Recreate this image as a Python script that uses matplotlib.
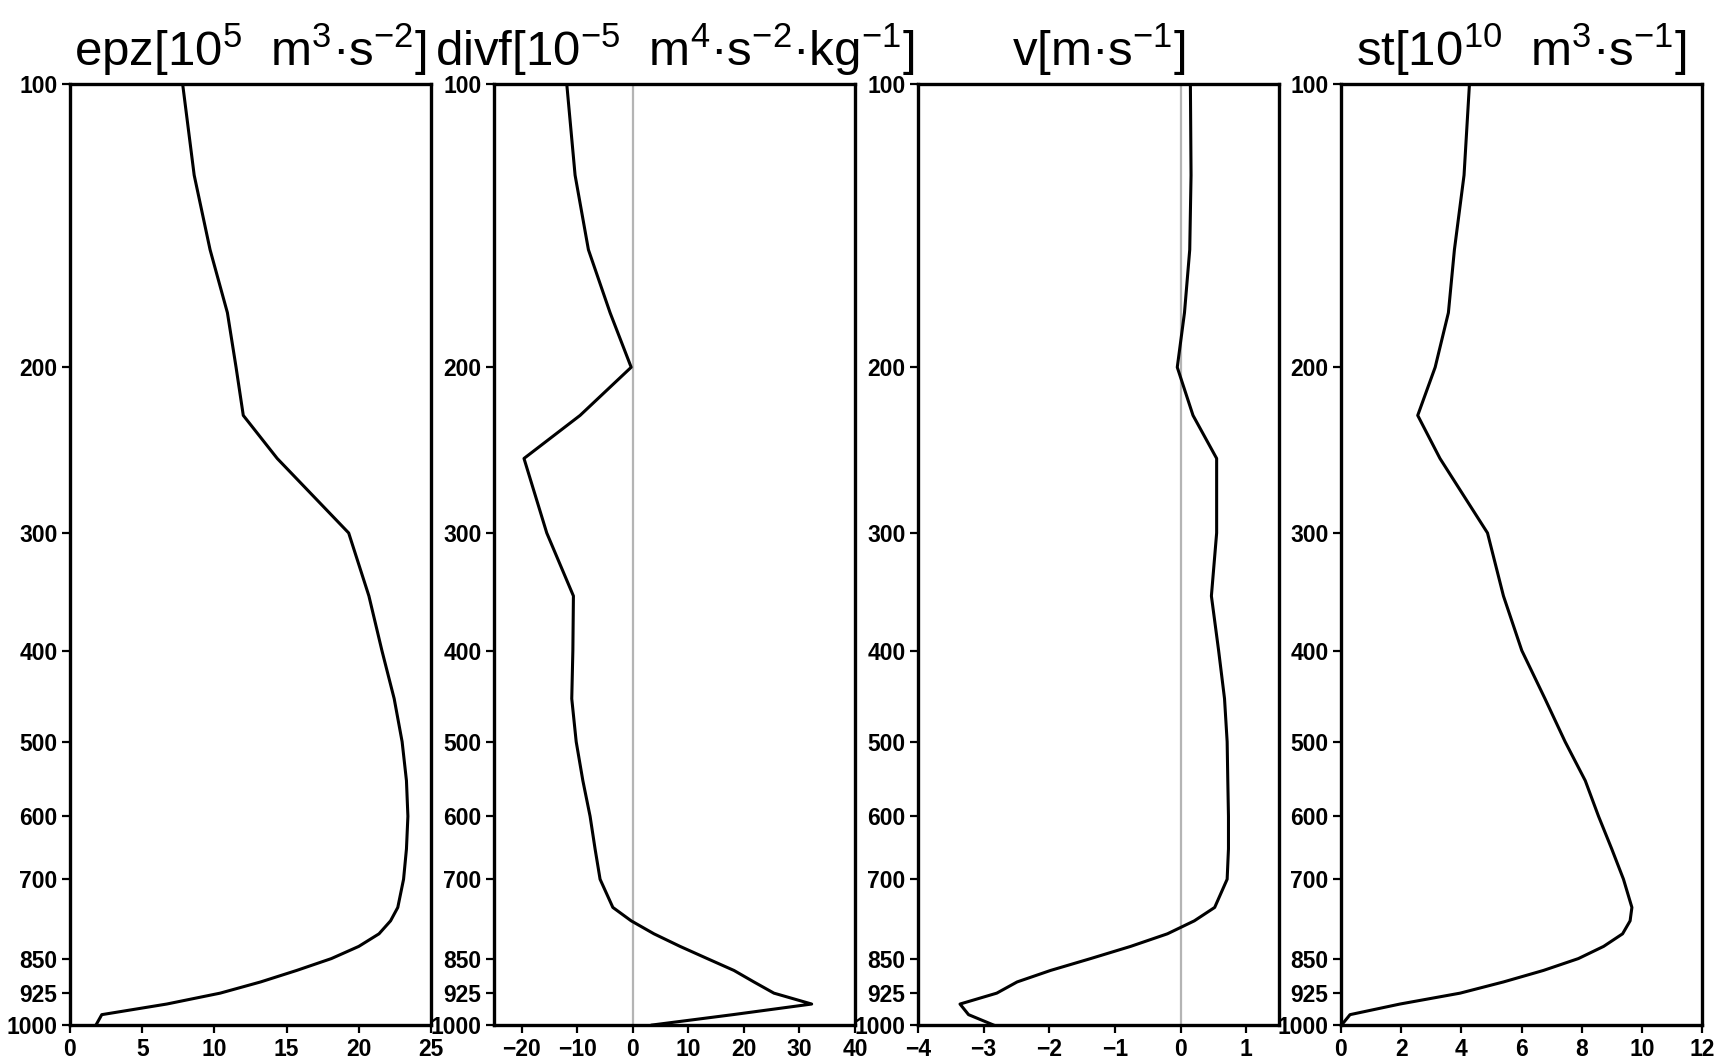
import numpy as np
import matplotlib
matplotlib.use('Agg')
import matplotlib.pyplot as plt
from matplotlib.ticker import FixedLocator, FixedFormatter, NullLocator

plt.rcParams['font.family'] = ['Liberation Sans', 'DejaVu Sans']
plt.rcParams['mathtext.fontset'] = 'custom'
plt.rcParams['mathtext.rm'] = 'Liberation Sans'
plt.rcParams['mathtext.default'] = 'regular'

# pressure levels (hPa), surface first
levels = [1000, 975, 950, 925, 900, 875, 850, 825, 800, 775, 750, 700, 650,
          600, 550, 500, 450, 400, 350, 300, 250, 225, 200, 175, 150, 125, 100]

epz = [1.8, 2.2, 6.7, 10.4, 13.2, 15.7, 18.1, 20.0, 21.4, 22.2, 22.7, 23.1, 23.3,
       23.4, 23.3, 23.0, 22.45, 21.6, 20.7, 19.3, 14.35, 12.0, 11.5, 10.9, 9.7, 8.6, 7.8]

divf = [3.5, 18.0, 32.2, 25.4, 21.8, 18.2, 13.4, 8.5, 3.8, -0.3, -3.6, -5.9, -6.8,
        -7.7, -9.0, -10.2, -11.0, -10.8, -10.7, -15.5, -19.6, -9.5, -0.3, -4.1, -8.0, -10.4, -11.9]

v = [-2.85, -3.23, -3.36, -2.80, -2.49, -1.98, -1.37, -0.76, -0.2, 0.21, 0.52, 0.71, 0.73,
     0.73, 0.72, 0.71, 0.67, 0.58, 0.47, 0.55, 0.55, 0.19, -0.05, 0.06, 0.14, 0.16, 0.15]

st = [0.02, 0.30, 1.96, 3.96, 5.4, 6.73, 7.89, 8.73, 9.36, 9.61, 9.67, 9.39, 9.0,
      8.56, 8.12, 7.45, 6.78, 6.01, 5.40, 4.87, 3.29, 2.55, 3.13, 3.57, 3.77, 4.09, 4.27]

ytick_vals = [100, 200, 300, 400, 500, 600, 700, 850, 925, 1000]

titles = [
    'epz[10$^{5}$  m$^{3}$·s$^{-2}$]',
    'divf[10$^{-5}$  m$^{4}$·s$^{-2}$·kg$^{-1}$]',
    'v[m·s$^{-1}$]',
    'st[10$^{10}$  m$^{3}$·s$^{-1}$]',
]
series = [epz, divf, v, st]
xlims = [(0, 25), (-25, 40), (-4, 1.5), (0, 12)]
xticks = [np.arange(0, 26, 5), np.arange(-20, 41, 10), np.arange(-4, 2, 1), np.arange(0, 13, 2)]
zero_line = [False, True, True, False]

fig = plt.figure(figsize=(17.15, 10.58), dpi=100)
lefts = [70, 494, 918, 1341]
W, H = 1715, 1058

for i in range(4):
    ax = fig.add_axes([lefts[i] / W, (H - 1025) / H, 361 / W, 941 / H])
    if zero_line[i]:
        ax.axvline(0, color='#b4b4b4', lw=1.6, zorder=1)
    ax.plot(series[i], levels, color='black', lw=2.2, zorder=3)

    ax.set_yscale('log')
    ax.set_ylim(1000, 100)
    ax.yaxis.set_major_locator(FixedLocator(ytick_vals))
    ax.yaxis.set_major_formatter(FixedFormatter([str(t) for t in ytick_vals]))
    ax.yaxis.set_minor_locator(NullLocator())

    ax.set_xlim(*xlims[i])
    ax.set_xticks(xticks[i])
    ax.set_xticklabels([f'{t:g}'.replace('-', '\u2212') for t in xticks[i]])

    for sp in ax.spines.values():
        sp.set_linewidth(2.4)
    ax.tick_params(direction='out', length=6, width=1.6, pad=3)
    for lab in ax.get_xticklabels() + ax.get_yticklabels():
        lab.set_fontsize(16.5)
        lab.set_fontweight('bold')

    ax.set_title(titles[i], fontsize=35.5, pad=13)

fig.savefig('out.png', dpi=100)
